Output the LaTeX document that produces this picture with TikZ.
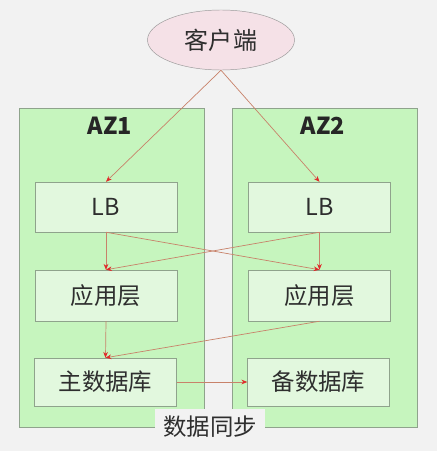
\documentclass[tikz,border=0pt]{standalone}
\usepackage{fontspec}
\setmainfont{Noto Sans CJK SC}
\usepackage{xcolor}
\usetikzlibrary{arrows.meta,shapes.geometric}

\definecolor{bggray}{HTML}{F2F2F2}
\definecolor{azfill}{HTML}{C6F5BE}
\definecolor{boxfill}{HTML}{E2F8DE}
\definecolor{boxline}{HTML}{8FA38C}
\definecolor{clientfill}{HTML}{F5E1E7}
\definecolor{linkline}{HTML}{C8826A}
\definecolor{tipred}{HTML}{E02A2A}

\begin{document}
\begin{tikzpicture}[
  x=0.03cm, y=-0.03cm,
  zonebox/.style={rectangle, draw=boxline, fill=azfill, minimum width=5.55cm,
                  minimum height=9.57cm, inner sep=0pt},
  tierbox/.style={rectangle, draw=boxline, fill=boxfill, minimum width=4.26cm,
                  minimum height=1.5cm, font=\fontsize{20}{24}\selectfont, text=black!82},
  client/.style={ellipse, draw=gray!80, fill=clientfill, minimum width=4.41cm,
                 minimum height=1.8cm, font=\fontsize{20.5}{24}\selectfont, text=black!82},
  zonelabel/.style={font=\fontsize{20}{24}\selectfont\bfseries, text=black!85},
  arr/.style={-{Stealth[length=5pt, width=4pt, color=tipred]}, linkline, line width=0.6pt},
]

% canvas
\fill[bggray] (0,0) rectangle (437,451);

% zones
\node[zonebox] (az1) at (111.5,267.5) {};
\node[zonebox] (az2) at (324.5,267.5) {};
\node[zonelabel] (az1lbl) at (110,126) {AZ1};
\node[zonelabel] (az2lbl) at (323,126) {AZ2};

% client
\node[client] (cli) at (221,40) {客户端};

% tiers
\node[tierbox] (lb1) at (106,207) {LB};
\node[tierbox] (lb2) at (319.5,207) {LB};
\node[tierbox, minimum height=1.53cm] (app1) at (106,295.5) {应用层};
\node[tierbox, minimum height=1.53cm] (app2) at (319.5,295.5) {应用层};
\node[tierbox, minimum height=1.44cm] (db1) at (105.5,382) {主数据库};
\node[tierbox, minimum height=1.44cm] (db2) at (318.5,382) {备数据库};

% sync label
\node[fill=bggray, minimum width=3.3cm, minimum height=1.08cm, font=\fontsize{20}{24}\selectfont,
      text=black!82] (sync) at (210,427) {数据同步};

% client to LB
\draw[arr] (cli.south) -- (lb1.north);
\draw[arr] (cli.south) -- (lb2.north);

% LB to app
\draw[arr] (lb1.south) -- (app1.north);
\draw[arr] (lb1.south) -- (app2.north);
\draw[arr] (lb2.south) -- (app2.north);
\draw[arr] (lb2.south) -- (app1.north);

% app to master db
\draw[arr] (app1.south) -- (db1.north);
\draw[arr] (app2.south) -- (db1.north);

% replication
\draw[arr] (db1.east) -- (db2.west);

\end{tikzpicture}
\end{document}
